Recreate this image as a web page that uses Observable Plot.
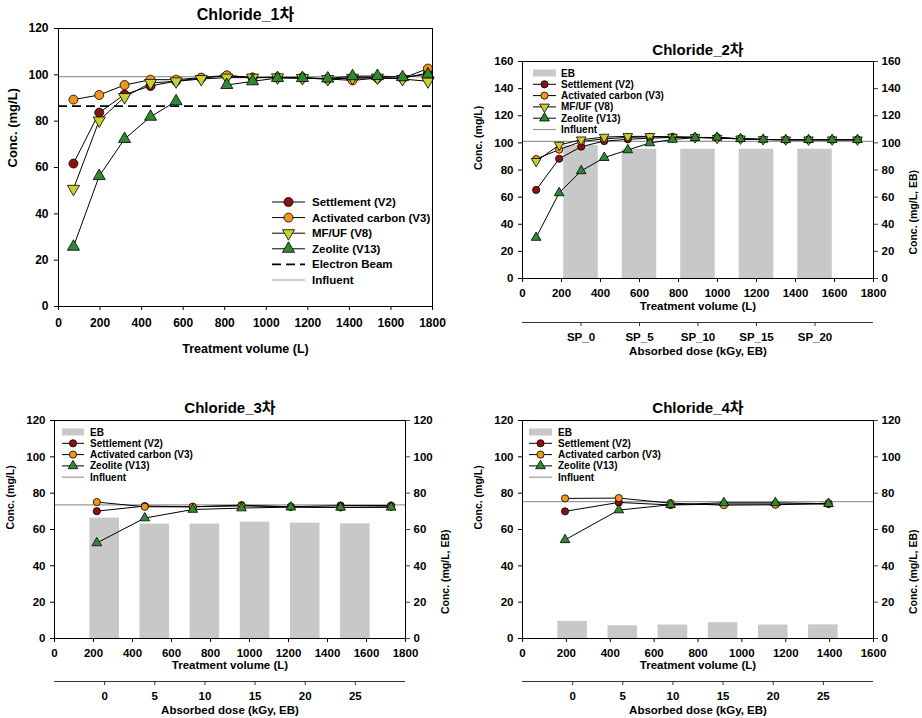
<!DOCTYPE html>
<html><head><meta charset="utf-8">
<script src="https://cdn.jsdelivr.net/npm/d3@7"></script>
<script src="https://cdn.jsdelivr.net/npm/@observablehq/plot@0.6"></script>
<style>
html,body{margin:0;padding:0;background:#fff;}
#root{position:relative;width:922px;height:718px;overflow:hidden;background:#fff;}
#root svg{position:absolute;}
</style></head><body><div id="root"></div>
<script>
// ---------------- DATA ----------------
const titles = ["Chloride_1차", "Chloride_2차", "Chloride_3차", "Chloride_4차"];
const seriesNames = ["Settlement (V2)", "Activated carbon (V3)", "MF/UF (V8)", "Zeolite (V13)"];
const ebName = "Electron Beam";
const ebBarName = "EB";
const influentName = "Influent";
const xLabel = "Treatment volume (L)";
const yLabel = "Conc. (mg/L)";
const yLabelRight = "Conc. (mg/L, EB)";
const doseLabel = "Absorbed dose (kGy, EB)";

const xTicks1800 = [0, 200, 400, 600, 800, 1000, 1200, 1400, 1600, 1800];
const xTicks1600 = [0, 200, 400, 600, 800, 1000, 1200, 1400, 1600];
const yTicks120 = [0, 20, 40, 60, 80, 100, 120];
const yTicks160 = [0, 20, 40, 60, 80, 100, 120, 140, 160];

// Panel 1
const vol1 = [72, 196, 318, 443, 566, 687, 810, 934, 1054, 1174, 1296, 1415, 1535, 1656, 1778];
const settlement1 = [61.7, 83.7, 91.5, 95.2, 97.3, 98.6, 99.6, 98.8, 98.8, 98.9, 98.2, 98.6, 98.7, 98.5, 100.8];
const activated1 = [89.3, 91.3, 95.6, 97.9, 97.9, 98.8, 99.8, 98.8, 98.9, 98.6, 98.2, 97.6, 98.6, 98.5, 102.7];
const mfuf1 = [50.8, 80.3, 90.4, 96.5, 97.2, 98.2, 98.8, 98.8, 98.9, 98.6, 98.2, 98.7, 98.8, 98.2, 97.2];
const zeolite1 = [25.8, 56.3, 72.3, 81.9, 88.6, null, 95.6, 97.2, 98.6, 98.6, 98.4, 99.4, 99.5, 99.0, 100.2];
const electronBeam1 = 86.5;
const influent1 = 99.2;

// Panel 2
const vol2 = [70, 188, 301, 419, 540, 653, 769, 885, 998, 1118, 1234, 1350, 1467, 1588, 1718];
const settlement2 = [65.3, 88.3, 97.2, 101.3, 102.6, 103.5, 104.0, 104.0, 104.0, 103.0, 102.5, 102.3, 102.3, 102.3, 102.3];
const activated2 = [88.1, 95.0, 101.0, 103.0, 104.0, 104.5, 104.5, 104.2, 103.5, 103.0, 102.5, 102.3, 102.3, 102.3, 102.3];
const mfuf2 = [86.4, 98.4, 102.3, 104.3, 104.8, 104.8, 104.3, 104.0, 103.5, 103.0, 102.5, 102.3, 102.3, 102.3, 102.3];
const zeolite2 = [30.2, 63.1, 79.3, 89.1, 94.8, 99.9, 102.5, 103.8, 104.0, 103.0, 102.5, 102.3, 102.3, 102.3, 102.3];
const influent2 = 101.1;
const ebDose2 = [0, 5, 10, 15, 20];
const ebLabels2 = ["SP_0", "SP_5", "SP_10", "SP_15", "SP_20"];
const ebValues2 = [98.0, 95.3, 95.3, 95.3, 95.3];

// Panel 3
const vol3 = [217, 463, 709, 959, 1212, 1467, 1726];
const settlement3 = [70.1, 72.9, 72.5, 73.4, 72.5, 73.2, 73.2];
const activated3 = [75.1, 72.5, 72.5, 73.0, 72.5, 72.1, 72.5];
const zeolite3 = [52.6, 66.3, 71.0, 71.8, 72.3, 72.2, 72.2];
const influent3 = 73.6;
const ebDose3 = [0, 5, 10, 15, 20, 25];
const ebValues3 = [66.3, 63.0, 63.0, 64.0, 63.5, 63.1];

// Panel 4
const vol4 = [194, 439, 675, 918, 1153, 1395];
const settlement4 = [70.0, 74.9, 73.5, 74.0, 74.0, 74.0];
const activated4 = [77.1, 77.3, 74.5, 73.4, 73.6, 74.5];
const zeolite4 = [54.3, 70.7, 73.6, 74.7, 74.7, 74.2];
const influent4 = 75.3;
const ebDose4 = [0, 5, 10, 15, 20, 25];
const ebValues4 = [9.4, 7.0, 7.4, 8.7, 7.4, 7.5];

// ---------------- STYLE ----------------
const FONT = "'Liberation Sans', Arial, Helvetica, 'Noto Sans CJK KR', sans-serif";
const C_SETTLE = "#8c1212", C_ACT = "#f7941e", C_MFUF = "#c8d030", C_ZEO = "#2f8a2f";
const BAR_COLOR = "#c8c8c8";
const INF_COLOR = "#9a9a9a";
const BAR_HALF = 1.475; // half width of EB bars, in dose units

const triangleDown = {
  draw(context, size) {
    const s3 = Math.sqrt(3);
    const y = -Math.sqrt(size / (s3 * 3));
    context.moveTo(0, -y * 2);
    context.lineTo(-s3 * y, y);
    context.lineTo(s3 * y, y);
    context.closePath();
  }
};
const SYM = {settle: "circle", act: "circle", mfuf: triangleDown, zeo: "triangle"};

const root = document.getElementById("root");
function place(svg, left, top) {
  svg.style.left = left + "px";
  svg.style.top = top + "px";
  root.appendChild(svg);
}

function buildPanel(p) {
  const marks = [];
  if (p.bars) {
    const d2v = d3.scaleLinear(p.bars.doseDomain, p.xDomain);
    const rows = p.bars.dose.map((d, i) => ({dose: d, value: p.bars.values[i]}));
    marks.push(Plot.rect(rows, {
      x1: d => d2v(d.dose - BAR_HALF), x2: d => d2v(d.dose + BAR_HALF),
      y1: d => 0, y2: "value", fill: BAR_COLOR
    }));
  }
  if (p.eb != null) marks.push(Plot.ruleY([p.eb], {stroke: "#000", strokeWidth: 1.6, strokeDasharray: "9,5"}));
  marks.push(Plot.ruleY([p.influent], {stroke: INF_COLOR, strokeWidth: 1.2}));
  p.series.forEach(s => {
    const rows = p.x.map((x, i) => ({x, y: s.y[i] == null ? NaN : s.y[i]}));
    marks.push(Plot.line(rows, {x: "x", y: "y", stroke: "#000", strokeWidth: 1}));
    marks.push(Plot.dot(rows.filter(d => !isNaN(d.y)), {x: "x", y: "y", r: p.r, symbol: s.symbol, fill: s.color, stroke: "#000", strokeWidth: 0.8}));
  });
  marks.push(Plot.frame({stroke: "#000", strokeWidth: 1}));
  marks.push(Plot.axisX({ticks: p.xTicks, tickFormat: d => String(d), tickSize: 4, tickPadding: p.xPad, label: null, fontSize: p.tickFont}));
  marks.push(Plot.axisY({ticks: p.yTicks, tickFormat: d => String(d), tickSize: 4, tickPadding: p.yPad, label: null, fontSize: p.tickFont}));
  if (p.right) marks.push(Plot.axisY({anchor: "right", ticks: p.yTicks, tickFormat: d => String(d), tickSize: 4, tickPadding: 4, label: null, fontSize: p.tickFont, stroke: "#444"}));
  marks.push(Plot.text([p.title], {text: d => d, frameAnchor: "top", lineAnchor: "middle", dy: p.titleDy, fontSize: p.titleFont, fontWeight: "bold"}));
  marks.push(Plot.text([xLabel], {text: d => d, frameAnchor: "bottom", lineAnchor: "middle", dy: p.xLabelDy, fontSize: p.xLabelFont, fontWeight: "bold"}));
  marks.push(Plot.text([yLabel], {text: d => d, frameAnchor: "left", lineAnchor: "middle", dx: p.yLabelDx, rotate: -90, fontSize: p.yLabelFont, fontWeight: "bold"}));
  if (p.right) marks.push(Plot.text([yLabelRight], {text: d => d, frameAnchor: "right", lineAnchor: "middle", dx: p.yLabelDxR, rotate: -90, fontSize: p.yLabelFont, fontWeight: "bold"}));

  const svg = Plot.plot({
    width: p.width, height: p.height,
    marginLeft: p.mL, marginRight: p.mR, marginTop: p.mT, marginBottom: p.mB,
    x: {domain: p.xDomain},
    y: {domain: p.yDomain},
    style: {fontFamily: FONT, fontWeight: "bold", fontSize: p.tickFont + "px", color: "#000", background: "transparent", overflow: "visible"},
    marks
  });
  place(svg, p.left, p.top);
}

function buildDoseAxis(a) {
  const svg = Plot.plot({
    width: a.width, height: 40,
    marginLeft: a.mL, marginRight: a.mR, marginTop: 0, marginBottom: 38,
    x: {domain: a.doseDomain},
    y: {domain: [0, 1], axis: null},
    style: {fontFamily: FONT, fontWeight: "bold", fontSize: "11.5px", color: "#000", background: "transparent", overflow: "visible"},
    marks: [
      Plot.ruleY([0], {stroke: "#333", strokeWidth: 1}),
      Plot.axisX({ticks: a.ticks, tickFormat: a.format, tickSize: 4, tickPadding: 6, label: null, stroke: "#333"}),
      Plot.text([doseLabel], {text: d => d, frameAnchor: "bottom", lineAnchor: "middle", dy: 29, fontSize: 11.5, fontWeight: "bold"})
    ]
  });
  place(svg, a.left, a.top);
}

// ---------------- PANELS ----------------
buildPanel({
  left: 0, top: 0, width: 460, height: 360, mL: 58, mR: 28, mT: 28, mB: 54,
  xDomain: [0, 1800], xTicks: xTicks1800, yDomain: [0, 120], yTicks: yTicks120,
  x: vol1, r: 4.5, eb: electronBeam1, influent: influent1,
  series: [
    {y: settlement1, color: C_SETTLE, symbol: SYM.settle},
    {y: activated1, color: C_ACT, symbol: SYM.act},
    {y: mfuf1, color: C_MFUF, symbol: SYM.mfuf},
    {y: zeolite1, color: C_ZEO, symbol: SYM.zeo}
  ],
  title: titles[0], titleDy: -14, titleFont: 16,
  tickFont: 12, xPad: 8, yPad: 6,
  xLabelDy: 42, xLabelFont: 12.5, yLabelDx: -46, yLabelFont: 13
});

buildPanel({
  left: 460, top: 30, width: 462, height: 290, mL: 62, mR: 49, mT: 31, mB: 42,
  xDomain: [0, 1800], xTicks: xTicks1800, yDomain: [0, 160], yTicks: yTicks160,
  x: vol2, r: 3.6, influent: influent2, right: true,
  bars: {dose: ebDose2, values: ebValues2, doseDomain: [-5, 25]},
  series: [
    {y: settlement2, color: C_SETTLE, symbol: SYM.settle},
    {y: activated2, color: C_ACT, symbol: SYM.act},
    {y: mfuf2, color: C_MFUF, symbol: SYM.mfuf},
    {y: zeolite2, color: C_ZEO, symbol: SYM.zeo}
  ],
  title: titles[1], titleDy: -11, titleFont: 15,
  tickFont: 11.5, xPad: 6, yPad: 5,
  xLabelDy: 28, xLabelFont: 11.5, yLabelDx: -44, yLabelDxR: 40, yLabelFont: 10.5
});
buildDoseAxis({left: 460, top: 320, width: 462, mL: 62, mR: 49, doseDomain: [-5, 25], ticks: ebDose2, format: d => ebLabels2[ebDose2.indexOf(d)]});

buildPanel({
  left: 0, top: 390, width: 460, height: 290, mL: 54, mR: 55, mT: 30, mB: 42,
  xDomain: [0, 1800], xTicks: xTicks1800, yDomain: [0, 120], yTicks: yTicks120,
  x: vol3, r: 3.6, influent: influent3, right: true,
  bars: {dose: ebDose3, values: ebValues3, doseDomain: [-5, 30]},
  series: [
    {y: settlement3, color: C_SETTLE, symbol: SYM.settle},
    {y: activated3, color: C_ACT, symbol: SYM.act},
    {y: zeolite3, color: C_ZEO, symbol: SYM.zeo}
  ],
  title: titles[2], titleDy: -12, titleFont: 15,
  tickFont: 11.5, xPad: 6, yPad: 5,
  xLabelDy: 27, xLabelFont: 11.5, yLabelDx: -44, yLabelDxR: 40, yLabelFont: 10.5
});
buildDoseAxis({left: 0, top: 679, width: 460, mL: 54, mR: 55, doseDomain: [-5, 30], ticks: ebDose3, format: d => String(d)});

buildPanel({
  left: 460, top: 390, width: 462, height: 290, mL: 62, mR: 49, mT: 30, mB: 42,
  xDomain: [0, 1600], xTicks: xTicks1600, yDomain: [0, 120], yTicks: yTicks120,
  x: vol4, r: 3.6, influent: influent4, right: true,
  bars: {dose: ebDose4, values: ebValues4, doseDomain: [-5, 30]},
  series: [
    {y: settlement4, color: C_SETTLE, symbol: SYM.settle},
    {y: activated4, color: C_ACT, symbol: SYM.act},
    {y: zeolite4, color: C_ZEO, symbol: SYM.zeo}
  ],
  title: titles[3], titleDy: -12, titleFont: 15,
  tickFont: 11.5, xPad: 6, yPad: 5,
  xLabelDy: 27, xLabelFont: 11.5, yLabelDx: -44, yLabelDxR: 40, yLabelFont: 10.5
});
buildDoseAxis({left: 460, top: 679, width: 462, mL: 62, mR: 49, doseDomain: [-5, 30], ticks: ebDose4, format: d => String(d)});

// ---------------- LEGENDS ----------------
const legendSvg = d3.select(root).append("svg")
  .attr("width", 922).attr("height", 718)
  .style("left", "0px").style("top", "0px")
  .style("font-family", FONT).style("font-weight", "bold");

function symPath(sym, r) {
  const size = Math.PI * r * r;
  const type = sym === "circle" ? d3.symbolCircle : sym === "triangle" ? d3.symbolTriangle : sym;
  return d3.symbol(type, size)();
}

function drawLegend(L) {
  const g = legendSvg.append("g");
  L.items.forEach((it, i) => {
    const y = L.y0 + i * L.dy;
    if (it.kind === "bar") {
      g.append("rect").attr("x", L.x0).attr("y", y - 3.5).attr("width", L.x1 - L.x0).attr("height", 7).attr("fill", BAR_COLOR);
    } else if (it.kind === "dash") {
      g.append("line").attr("x1", L.x0).attr("x2", L.x1).attr("y1", y).attr("y2", y)
        .attr("stroke", "#000").attr("stroke-width", 1.6).attr("stroke-dasharray", "9,5");
    } else if (it.kind === "gray") {
      g.append("line").attr("x1", L.x0).attr("x2", L.x1).attr("y1", y).attr("y2", y)
        .attr("stroke", INF_COLOR).attr("stroke-width", 1.2);
    } else {
      g.append("line").attr("x1", L.x0).attr("x2", L.x1).attr("y1", y).attr("y2", y)
        .attr("stroke", "#000").attr("stroke-width", 1);
      g.append("path").attr("d", symPath(it.symbol, L.r))
        .attr("transform", `translate(${(L.x0 + L.x1) / 2},${y})`)
        .attr("fill", it.color).attr("stroke", "#000").attr("stroke-width", 0.8);
    }
    g.append("text").attr("x", L.xt).attr("y", y).attr("dy", "0.35em")
      .attr("font-size", L.font).text(it.label);
  });
}

const sItems = [
  {label: seriesNames[0], color: C_SETTLE, symbol: SYM.settle},
  {label: seriesNames[1], color: C_ACT, symbol: SYM.act},
  {label: seriesNames[2], color: C_MFUF, symbol: SYM.mfuf},
  {label: seriesNames[3], color: C_ZEO, symbol: SYM.zeo}
];

drawLegend({x0: 272, x1: 305, xt: 312, y0: 202, dy: 15.6, font: 11.5, r: 4.5,
  items: [...sItems, {label: ebName, kind: "dash"}, {label: influentName, kind: "gray"}]});
drawLegend({x0: 533, x1: 556, xt: 561, y0: 73, dy: 11.3, font: 10, r: 3.6,
  items: [{label: ebBarName, kind: "bar"}, ...sItems, {label: influentName, kind: "gray"}]});
drawLegend({x0: 62, x1: 84, xt: 90, y0: 432, dy: 11.3, font: 10, r: 3.6,
  items: [{label: ebBarName, kind: "bar"}, sItems[0], sItems[1], sItems[3], {label: influentName, kind: "gray"}]});
drawLegend({x0: 529, x1: 552, xt: 558, y0: 432, dy: 11.3, font: 10, r: 3.6,
  items: [{label: ebBarName, kind: "bar"}, sItems[0], sItems[1], sItems[3], {label: influentName, kind: "gray"}]});
</script></body></html>
